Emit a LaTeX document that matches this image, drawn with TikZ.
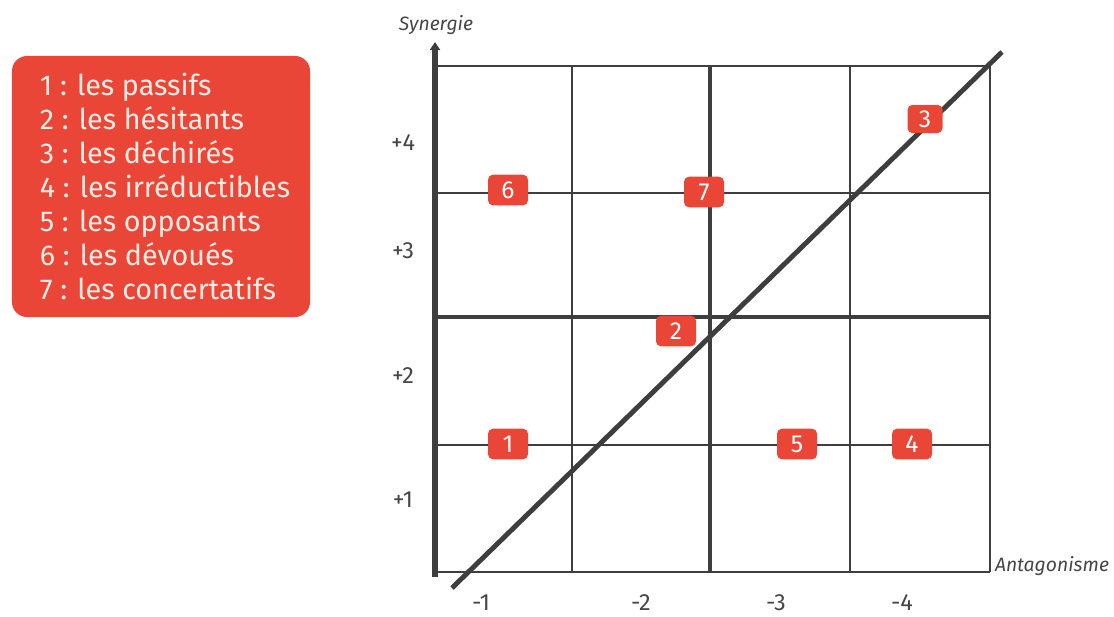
\documentclass[tikz,border=0pt]{standalone}
\usepackage{fontspec}
\setmainfont{Fira Sans}
\usetikzlibrary{arrows.meta,positioning}
\definecolor{legendred}{RGB}{234,70,55}
\definecolor{paletext}{RGB}{253,236,230}
\definecolor{gridgrey}{RGB}{62,62,62}
\definecolor{labelgrey}{RGB}{70,70,70}
\tikzset{
  thinline/.style={draw=gridgrey, line width=1.1pt},
  heavyline/.style={draw=gridgrey, line width=3.4pt},
  legendbox/.style={
    fill=legendred,
    rounded corners=4.5mm,
    minimum width=8.94cm,
    minimum height=7.83cm
  },
  legendtext/.style={
    text=paletext,
    align=left,
    inner sep=0pt,
    font=\fontsize{24.5}{29}\selectfont
  },
  tag/.style={
    fill=legendred,
    text=white,
    rounded corners=1.5mm,
    minimum width=1.2cm,
    minimum height=0.92cm,
    inner sep=0pt,
    font=\fontsize{21}{23}\selectfont
  },
  ticklabel/.style={text=labelgrey, font=\fontsize{20}{22}\selectfont},
  axislabel/.style={text=labelgrey, font=\fontsize{16.5}{18}\selectfont\itshape}
}

\begin{document}
\begin{tikzpicture}[x=0.03cm, y=-0.03cm]
  \useasboundingbox (0,0) rectangle (1114,617);

  % legend
  \node[legendbox] (legend) at (161,186.5) {};
  \node[legendtext, anchor=west] (legendlist) at ([xshift=0.84cm]legend.west)
    {1 : les passifs\\2 : les hésitants\\3 : les déchirés\\4 : les irréductibles\\5 : les opposants\\6 : les dévoués\\7 : les concertatifs};

  % grid
  \foreach \x in {572,850,990}
    \draw[thinline] (\x,66) -- (\x,572);
  \foreach \y in {66,193,445,572}
    \draw[thinline] (437,\y) -- (990,\y);
  \draw[heavyline] (710,66) -- (710,572);
  \draw[heavyline] (437,317) -- (990,317);

  % axes
  \coordinate (ybot) at (435,577);
  \coordinate (ytop) at (435,42);
  \draw[gridgrey, line width=5pt, -{Triangle[length=0.24cm, width=0.3cm]}] (ybot) -- (ytop);
  \node[axislabel] (synergie) at (436,25) {Synergie};
  \node[axislabel] (antagonisme) at (1052,566) {Antagonisme};

  \node[ticklabel] (p4) at (403,143) {+4};
  \node[ticklabel] (p3) at (403,251) {+3};
  \node[ticklabel] (p2) at (403,376) {+2};
  \node[ticklabel] (p1) at (403,500) {+1};
  \node[ticklabel] (m1) at (481,603) {-1};
  \node[ticklabel] (m2) at (641,603) {-2};
  \node[ticklabel] (m3) at (776,603) {-3};
  \node[ticklabel] (m4) at (902,603) {-4};

  % diagonal
  \coordinate (dlow) at (452,588);
  \coordinate (dhigh) at (1002,52);
  \draw[gridgrey, line width=4.2pt] (dlow) -- (dhigh);

  % tags
  \node[tag] (t1) at (508,444) {1};
  \node[tag] (t2) at (676,331) {2};
  \node[tag, minimum width=1.05cm, minimum height=0.85cm] (t3) at (925,119) {3};
  \node[tag] (t4) at (912,444) {4};
  \node[tag] (t5) at (797,444) {5};
  \node[tag] (t6) at (508,190) {6};
  \node[tag] (t7) at (704,192) {7};
\end{tikzpicture}
\end{document}
